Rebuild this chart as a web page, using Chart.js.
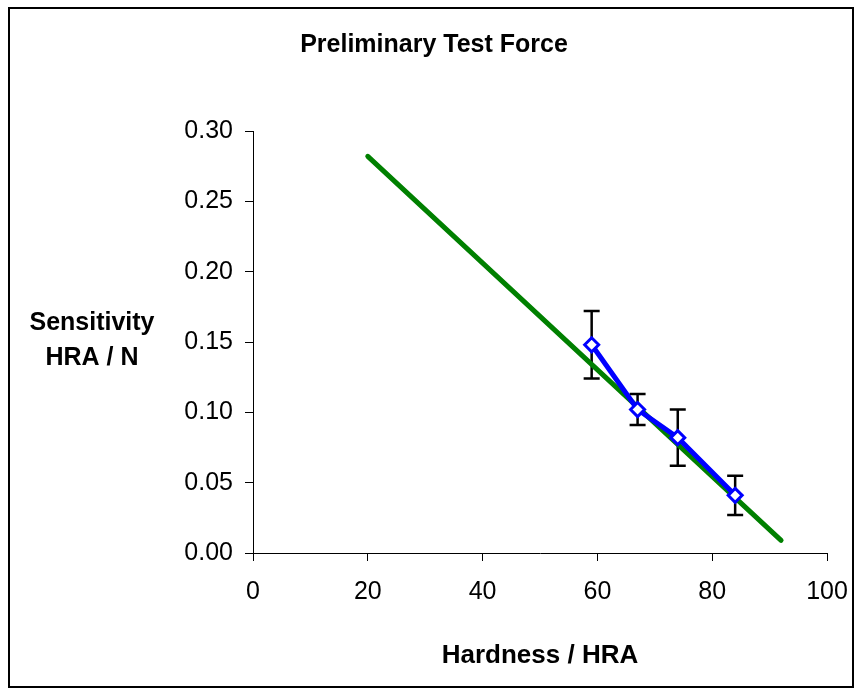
<!DOCTYPE html>
<html>
<head>
<meta charset="utf-8">
<script src="https://cdn.jsdelivr.net/npm/chart.js@4/dist/chart.umd.min.js"></script>
<style>
  html, body { margin: 0; padding: 0; background: #fff; }
  #wrap { width: 856px; height: 689px; }
</style>
</head>
<body>
<div id="wrap"><canvas id="chart" width="856" height="689"></canvas></div>
<script>
const hardness = [59, 67, 74, 84];
const sensitivity = [0.148, 0.102, 0.082, 0.041];
const errLow = [0.124, 0.091, 0.062, 0.027];
const errHigh = [0.172, 0.113, 0.102, 0.055];
const fitX = [20, 92];
const fitY = [0.282, 0.009];
const xTicks = [0, 20, 40, 60, 80, 100];
const yTicks = [0, 0.05, 0.10, 0.15, 0.20, 0.25, 0.30];

const FONT = '"Liberation Sans", Arial, sans-serif';

// error bars, drawn under the markers
const errorBars = {
  id: 'errorBars',
  beforeDatasetsDraw(chart) {
    const { ctx, scales: { x, y } } = chart;
    ctx.save();
    ctx.strokeStyle = '#000';
    ctx.lineWidth = 2.5;
    hardness.forEach((h, i) => {
      const px = x.getPixelForValue(h);
      const top = y.getPixelForValue(errHigh[i]);
      const bot = y.getPixelForValue(errLow[i]);
      ctx.beginPath();
      ctx.moveTo(px, top); ctx.lineTo(px, bot);
      ctx.moveTo(px - 8, top); ctx.lineTo(px + 8, top);
      ctx.moveTo(px - 8, bot); ctx.lineTo(px + 8, bot);
      ctx.stroke();
    });
    ctx.restore();
  }
};

// titles and the frame
const labels = {
  id: 'labels',
  afterDraw(chart) {
    const ctx = chart.ctx;
    ctx.save();
    ctx.strokeStyle = '#000';
    ctx.lineWidth = 2;
    ctx.strokeRect(9, 8, 844, 679);
    ctx.fillStyle = '#000';
    ctx.textAlign = 'center';
    ctx.textBaseline = 'alphabetic';
    ctx.font = 'bold 25px ' + FONT;
    ctx.fillText('Preliminary Test Force', 434, 52);
    ctx.fillText('Sensitivity', 92, 330);
    ctx.fillText('HRA / N', 92, 365);
    ctx.font = 'bold 26px ' + FONT;
    ctx.fillText('Hardness / HRA', 540, 663);
    ctx.restore();
  }
};

new Chart(document.getElementById('chart'), {
  type: 'scatter',
  data: {
    datasets: [
      {
        label: 'Measured',
        data: hardness.map((h, i) => ({ x: h, y: sensitivity[i] })),
        showLine: true,
        borderColor: '#0000FF',
        borderWidth: 5,
        pointStyle: 'rectRot',
        pointRadius: 7,
        pointBorderWidth: 3,
        pointBackgroundColor: '#FFFFFF',
        pointBorderColor: '#0000FF'
      },
      {
        label: 'Fit',
        data: fitX.map((v, i) => ({ x: v, y: fitY[i] })),
        showLine: true,
        borderColor: '#008000',
        borderWidth: 5,
        borderCapStyle: 'round',
        pointRadius: 0
      }
    ]
  },
  options: {
    responsive: false,
    animation: false,
    layout: { padding: { top: 131, right: 29, bottom: 0, left: 0 } },
    plugins: { legend: { display: false }, tooltip: { enabled: false } },
    scales: {
      x: {
        type: 'linear', min: 0, max: 100,
        afterFit: s => { s.height = 136; s.paddingLeft = 0; s.paddingRight = 0; },
        afterBuildTicks: s => { s.ticks = xTicks.map(v => ({ value: v })); },
        grid: { drawOnChartArea: false, drawTicks: true, tickLength: 8, color: '#000' },
        border: { display: true, color: '#000', width: 1 },
        ticks: { color: '#000', padding: 16, font: { family: FONT, size: 25 } }
      },
      y: {
        type: 'linear', min: 0, max: 0.3,
        afterFit: s => { s.width = 253; s.paddingTop = 0; s.paddingBottom = 0; },
        afterBuildTicks: s => { s.ticks = yTicks.map(v => ({ value: v })); },
        grid: { drawOnChartArea: false, drawTicks: true, tickLength: 8, color: '#000' },
        border: { display: true, color: '#000', width: 1 },
        ticks: { color: '#000', padding: 12, font: { family: FONT, size: 25 }, callback: v => v.toFixed(2) }
      }
    }
  },
  plugins: [errorBars, labels]
});
</script>
</body>
</html>
